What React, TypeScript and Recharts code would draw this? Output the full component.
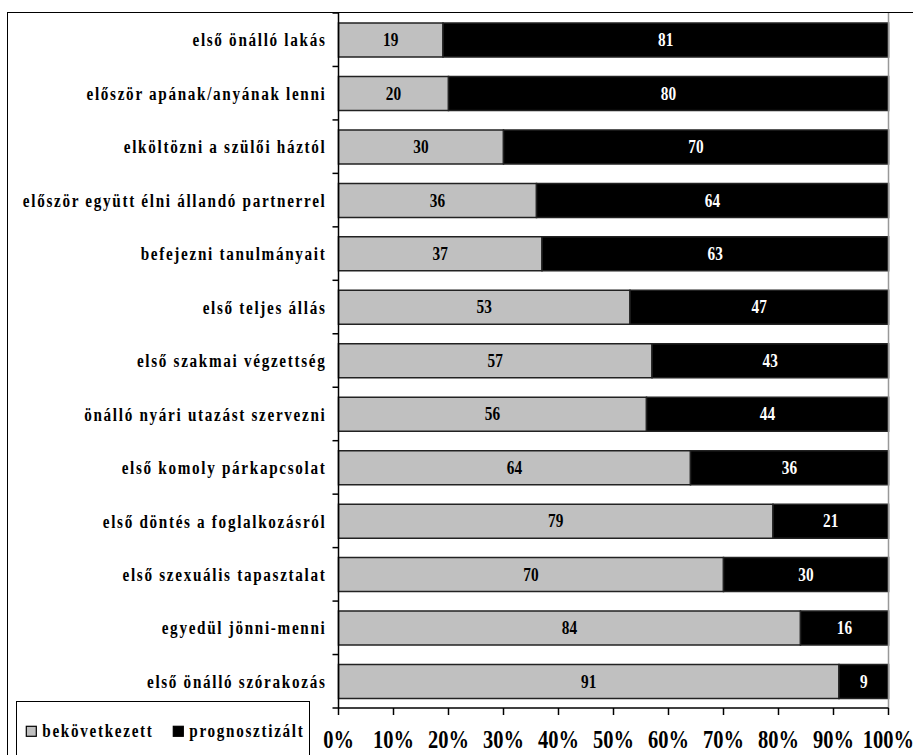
import React from 'react';
import { BarChart, Bar, XAxis, YAxis, LabelList, Legend, ReferenceLine } from 'recharts';

const categories = [
  'első önálló lakás',
  'először apának/anyának lenni',
  'elköltözni a szülői háztól',
  'először együtt élni állandó partnerrel',
  'befejezni tanulmányait',
  'első teljes állás',
  'első szakmai végzettség',
  'önálló nyári utazást szervezni',
  'első komoly párkapcsolat',
  'első döntés a foglalkozásról',
  'első szexuális tapasztalat',
  'egyedül jönni-menni',
  'első önálló szórakozás',
];
const happened = [19, 20, 30, 36, 37, 53, 57, 56, 64, 79, 70, 84, 91];
const forecast = [81, 80, 70, 64, 63, 47, 43, 44, 36, 21, 30, 16, 9];
const xTicks = [0, 10, 20, 30, 40, 50, 60, 70, 80, 90, 100];
const seriesNames = ['bekövetkezett', 'prognosztizált'];

const data = categories.map((c, i) => ({ name: c, a: happened[i], b: forecast[i] }));

const FONT = '"Liberation Serif", "Times New Roman", serif';
const CAT_TICK_MARGIN = 12;
const BOUNDARY_TICK = 6;

const CatTick = (props: any) => {
  const { x, y, payload, index } = props;
  const half = payload && typeof payload.offset === 'number' && payload.offset > 0 ? payload.offset : 26.75;
  const ax = CAT_TICK_MARGIN;
  return (
    <g transform={`translate(${x},${y})`}>
      <line x1={ax - BOUNDARY_TICK} x2={ax} y1={half} y2={half} stroke="#000" strokeWidth={1.5} />
      {index === 0 && <line x1={ax - BOUNDARY_TICK} x2={ax} y1={-half} y2={-half} stroke="#000" strokeWidth={1.5} />}
      <text transform="scale(0.8,1)" textAnchor="end" dy="0.35em" fontFamily={FONT} fontWeight="bold" fontSize={19} letterSpacing={2.1} fill="#000">
        {payload.value}
      </text>
    </g>
  );
};

const XTick = (props: any) => {
  const { x, y, payload } = props;
  return (
    <g transform={`translate(${x},${y})`}>
      <text transform="scale(0.82,1)" textAnchor="middle" dy="0.71em" fontFamily={FONT} fontWeight="bold" fontSize={25} fill="#000">
        {`${payload.value}%`}
      </text>
    </g>
  );
};

const makeBarLabel = (color: string) => (props: any) => {
  const { x, y, width, height, value } = props;
  const cx = Number(x) + Number(width) / 2;
  const cy = Number(y) + Number(height) / 2;
  return (
    <g transform={`translate(${cx},${cy})`}>
      <text transform="scale(0.85,1)" textAnchor="middle" dy="0.34em" fontFamily={FONT} fontWeight="bold" fontSize={18} fill={color}>
        {value}
      </text>
    </g>
  );
};

const LegendContent = (props: any) => {
  const payload = props.payload || [];
  const itemX = [9.3, 156.3];
  return (
    <svg width={294} height={60} style={{ display: 'block' }}>
      {payload.map((p: any, i: number) => (
        <g key={i}>
          <rect x={itemX[i]} y={24.3} width={10} height={10} fill={p.color} stroke="#000" strokeWidth={1.2} />
          <text x={itemX[i] + 16} y={35} transform={`translate(${(itemX[i] + 16) * 0.2},0) scale(0.8,1)`} fontFamily={FONT} fontWeight="bold" fontSize={19} letterSpacing={2.1} fill="#000">
            {p.value}
          </text>
        </g>
      ))}
    </svg>
  );
};

export default function App() {
  return (
    <div style={{ position: 'fixed', left: 0, top: 0, width: 913, height: 755, overflow: 'hidden', background: '#fff' }}>
      <div style={{ position: 'absolute', left: 7, top: 12, width: 1000, height: 1000, border: '1.5px solid #000' }} />
      <BarChart
        layout="vertical"
        width={913}
        height={755}
        data={data}
        margin={{ top: 13, right: 24.5, bottom: 0, left: 8 }}
        barSize={34}
      >
        <YAxis
          type="category"
          dataKey="name"
          width={330.5}
          tickLine={false}
          tickSize={0}
          tickMargin={CAT_TICK_MARGIN}
          axisLine={{ stroke: '#000', strokeWidth: 1.5 }}
          tick={<CatTick />}
          interval={0}
        />
        <XAxis
          type="number"
          domain={[0, 100]}
          ticks={xTicks}
          height={47}
          tickSize={7}
          tickMargin={15}
          axisLine={{ stroke: '#000', strokeWidth: 1.5 }}
          tickLine={{ stroke: '#000', strokeWidth: 1.5 }}
          tick={<XTick />}
          interval={0}
        />
        <ReferenceLine x={100} stroke="#999" strokeWidth={1.5} />
        <Bar dataKey="a" name={seriesNames[0]} stackId="s" fill="#c0c0c0" stroke="#222" strokeWidth={1.5} isAnimationActive={false}>
          <LabelList dataKey="a" content={makeBarLabel('#000')} />
        </Bar>
        <Bar dataKey="b" name={seriesNames[1]} stackId="s" fill="#000" stroke="#222" strokeWidth={1.5} isAnimationActive={false}>
          <LabelList dataKey="b" content={makeBarLabel('#fff')} />
        </Bar>
        <Legend
          layout="horizontal"
          verticalAlign="middle"
          align="center"
          content={<LegendContent />}
          wrapperStyle={{ left: 16, top: 701, width: 294, height: 70, border: '1.5px solid #000', background: '#fff', boxSizing: 'border-box' }}
        />
      </BarChart>
    </div>
  );
}
